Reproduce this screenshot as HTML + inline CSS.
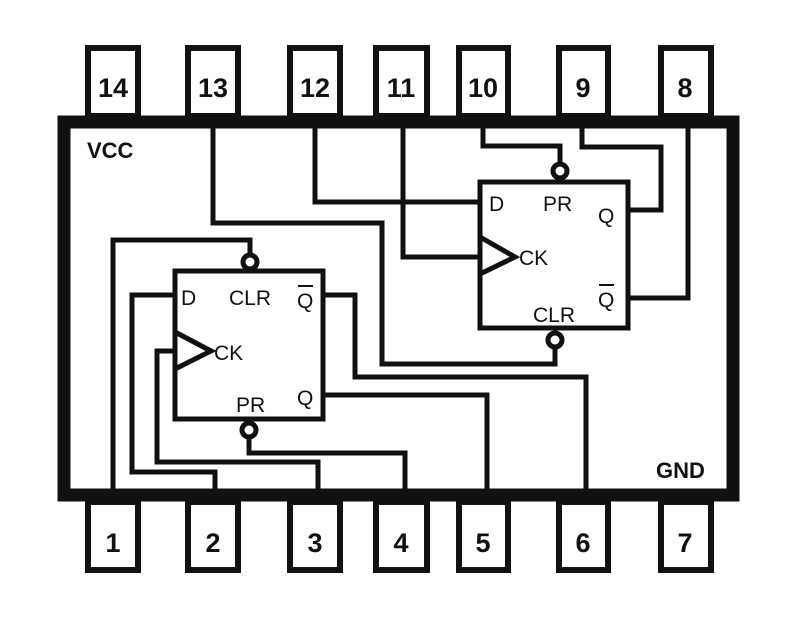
<!DOCTYPE html>
<html><head><meta charset="utf-8"><style>
html,body{margin:0;padding:0;background:#fff;width:800px;height:620px;overflow:hidden}
svg text{font-family:"Liberation Sans",sans-serif;fill:#111}
</style></head><body>
<svg width="800" height="620" viewBox="0 0 800 620" xmlns="http://www.w3.org/2000/svg">
<g fill="#fff" stroke="#111" stroke-width="6">
<rect x="88" y="48" width="50" height="68"/>
<rect x="188" y="48" width="50" height="68"/>
<rect x="290" y="48" width="50" height="68"/>
<rect x="376" y="48" width="51" height="68"/>
<rect x="459" y="48" width="49" height="68"/>
<rect x="559" y="48" width="49" height="68"/>
<rect x="661" y="48" width="50" height="68"/>
<rect x="88" y="502" width="50" height="68"/>
<rect x="188" y="502" width="50" height="68"/>
<rect x="290" y="502" width="50" height="68"/>
<rect x="376" y="502" width="51" height="68"/>
<rect x="459" y="502" width="49" height="68"/>
<rect x="559" y="502" width="49" height="68"/>
<rect x="661" y="502" width="50" height="68"/>
</g>
<rect x="64" y="122" width="669" height="373" fill="#fff" stroke="#111" stroke-width="13"/>
<g font-size="27" font-weight="bold" text-anchor="middle">
<text x="113" y="97">14</text><text x="213" y="97">13</text><text x="315" y="97">12</text>
<text x="401" y="97">11</text><text x="483" y="97">10</text><text x="583" y="97">9</text><text x="685" y="97">8</text>
<text x="113" y="552">1</text><text x="213" y="552">2</text><text x="315" y="552">3</text>
<text x="401" y="552">4</text><text x="483" y="552">5</text><text x="583" y="552">6</text><text x="685" y="552">7</text>
</g>
<text x="87" y="158" font-size="22" font-weight="bold">VCC</text>
<text x="656" y="478" font-size="22" font-weight="bold">GND</text>
<g fill="none" stroke="#111" stroke-width="5">
<rect x="480" y="182" width="148" height="146"/>
<polyline points="213,128 213,223 382,223 382,364 555,364 555,347"/>
<polyline points="315,128 315,202 480,202"/>
<polyline points="403,128 403,257 480,257"/>
<polyline points="483,128 483,146 560,146 560,163"/>
<polyline points="582,128 582,147 661,147 661,210 628,210"/>
<polyline points="688,128 688,298 628,298"/>
<polyline points="480,237 515,257 480,274"/>
<rect x="175" y="271" width="148" height="148"/>
<polyline points="250,255 250,240 113,240 113,489"/>
<polyline points="175,295 132,295 132,472 215,472 215,489"/>
<polyline points="175,351 157,351 157,462 318,462 318,489"/>
<polyline points="249,437 249,453 405,453 405,489"/>
<polyline points="323,395 487,395 487,489"/>
<polyline points="323,295 355,295 355,377 586,377 586,489"/>
<polyline points="175,332 211,351 175,369"/>
</g>
<g fill="#fff" stroke="#111" stroke-width="5">
<circle cx="560" cy="171" r="7"/>
<circle cx="555" cy="340" r="7"/>
<circle cx="250" cy="262" r="7"/>
<circle cx="249" cy="430" r="7"/>
</g>
<g font-size="21">
<text x="489" y="211">D</text><text x="543" y="211">PR</text>
<text x="598" y="223">Q</text><text x="519" y="265">CK</text>
<text x="598" y="307">Q</text><line x1="599" y1="285" x2="614" y2="285" stroke="#111" stroke-width="2"/>
<text x="533" y="322">CLR</text>
<text x="181" y="305">D</text><text x="229" y="305">CLR</text>
<text x="297" y="308">Q</text><line x1="298" y1="286" x2="313" y2="286" stroke="#111" stroke-width="2"/>
<text x="214" y="360">CK</text><text x="236" y="412">PR</text><text x="297" y="405">Q</text>
</g>
</svg>
</body></html>
